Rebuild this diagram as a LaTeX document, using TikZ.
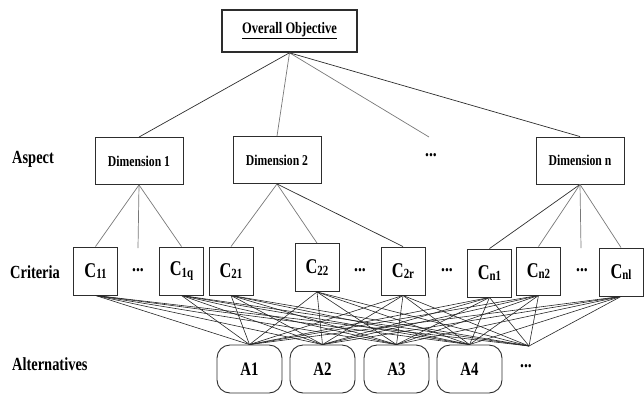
\documentclass[tikz,border=0pt]{standalone}
\usepackage{fontspec}
\setmainfont{Liberation Serif}
\usepackage{graphicx}
\usetikzlibrary{math}
\definecolor{mydark}{RGB}{45,45,45}
\definecolor{mygray}{RGB}{120,120,120}
\newcommand{\narrow}[1]{\scalebox{0.78}[1]{#1}}
\newcommand{\crit}[1]{\narrow{C\raisebox{-1.5pt}{\fontsize{14}{14}\selectfont #1}}}

\begin{document}
\begin{tikzpicture}[x=1pt,y=-1pt]
\tikzmath{
\critw=44;
\crith=48;
\dimw=88;
\dimh=47;
\altw=65;
\alth=48;
}
\tikzset{
goalbox/.style={draw=mydark, line width=1.6pt, minimum width=135, minimum height=42, inner sep=0pt, font=\bfseries\fontsize{16}{16}\selectfont},
dimbox/.style={draw=mydark, line width=0.9pt, minimum width=\dimw, minimum height=\dimh, inner sep=0pt, font=\bfseries\fontsize{15}{15}\selectfont},
critbox/.style={draw=mydark, line width=0.9pt, minimum width=\critw, minimum height=\crith, inner sep=0pt, font=\bfseries\fontsize{21}{21}\selectfont},
altbox/.style={draw=mydark, line width=0.9pt, rounded corners=13pt, minimum width=\altw, minimum height=\alth, inner sep=0pt, font=\bfseries\fontsize{19}{19}\selectfont},
level/.style={anchor=west, inner sep=0pt, font=\bfseries\fontsize{18.5}{18.5}\selectfont},
more/.style={inner sep=0pt, font=\bfseries\fontsize{20}{20}\selectfont},
linkd/.style={draw=mydark, line width=0.7pt},
linkg/.style={draw=mygray, line width=0.7pt},
web/.style={draw=black!85, line width=0.6pt},
}
\useasboundingbox (0,0) rectangle (644,394);

% levels
\node[level] (aspect) at (12,159) {\narrow{Aspect}};
\node[level] (criteria) at (10,272) {\narrow{Criteria}};
\node[level] (alternatives) at (12,364) {\narrow{Alternatives}};

% objective and dimensions
\node[goalbox] (goal) at (289.5,31) {\narrow{\underline{Overall Objective}}};
\node[dimbox] (dim1) at (139,161) {\narrow{Dimension 1}};
\node[dimbox] (dim2) at (277,160) {\narrow{Dimension 2}};
\node[dimbox] (dimn) at (580,160.5) {\narrow{Dimension n}};
\node[more] (dimdots) at (431,155) {\narrow{...}};
\coordinate (dimdotstop) at (429,137);

\draw[linkd] (goal.south) -- (dim1.north);
\draw[linkg] (goal.south) -- (dim2.north);
\draw[linkg] (goal.south) -- (dimdotstop);
\draw[linkd] (goal.south) -- (dimn.north);

% criteria
\node[critbox] (c11) at (95.5,271) {\crit{11}};
\node[more] (c1dots) at (138,270) {\narrow{...}};
\node[critbox] (c1q) at (181.5,271) {\crit{1q}};
\node[critbox] (c21) at (231,271) {\crit{21}};
\node[critbox] (c22) at (317,267.5) {\crit{22}};
\node[more] (c2dots) at (360,270) {\narrow{...}};
\node[critbox] (c2r) at (403,271) {\crit{2r}};
\node[more] (cdots) at (447,270) {\narrow{...}};
\node[critbox] (cn1) at (489.5,273) {\crit{n1}};
\node[critbox] (cn2) at (538.5,271) {\crit{n2}};
\node[more] (cndots) at (582,270) {\narrow{...}};
\node[critbox] (cnl) at (621,272) {\crit{nl}};
\coordinate (c1dotstop) at (138,248);
\coordinate (cndotstop) at (581,248);

\draw[linkg] (dim1.south) -- (c11.north);
\draw[linkg] (dim1.south) -- (c1dotstop);
\draw[linkg] (dim1.south) -- (c1q.north);
\draw[linkg] (dim2.south) -- (c21.north);
\draw[linkg] (dim2.south) -- (c22.north);
\draw[linkd] (dim2.south) -- (c2r.north);
\draw[linkd] (dimn.south) -- (cn1.north);
\draw[linkg] (dimn.south) -- (cn2.north);
\draw[linkg] (dimn.south) -- (cndotstop);
\draw[linkg] (dimn.south) -- (cnl.north);

% alternatives
\node[altbox] (a1) at (249.5,369) {\narrow{A1}};
\node[altbox] (a2) at (322.5,369) {\narrow{A2}};
\node[altbox] (a3) at (396.5,369) {\narrow{A3}};
\node[altbox] (a4) at (469.5,369) {\narrow{A4}};
\node[more] (adots) at (526,366) {\narrow{...}};
\coordinate (aend) at (529,346);

\foreach \c in {c11,c1q,c21,c22,c2r,cn1,cn2,cnl}
  \foreach \a in {a1.north,a2.north,a3.north,a4.north,aend}
    \draw[web] (\c.south) -- (\a);

\end{tikzpicture}
\end{document}
